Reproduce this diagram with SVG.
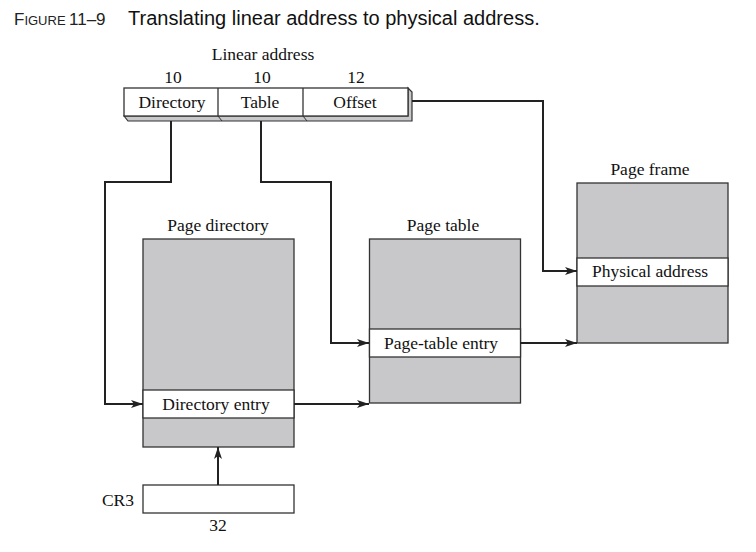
<svg xmlns="http://www.w3.org/2000/svg" width="756" height="552" viewBox="0 0 756 552">
<style>
.t{font-family:"Liberation Serif",serif;font-size:17.5px;fill:#111;text-anchor:middle}
.box{fill:#c8c8ca;stroke:#333;stroke-width:1.3}
.ent{fill:#fff;stroke:#333;stroke-width:1.3}
.wb{fill:#fff;stroke:#333;stroke-width:1.3}
.c{fill:none;stroke:#222;stroke-width:2}
</style>
<defs>
<marker id="ah" viewBox="0 0 12 8" refX="12" refY="4" markerWidth="12" markerHeight="8" markerUnits="userSpaceOnUse" orient="auto">
<path d="M0,0 L12,4 L0,8 L3,4 Z" fill="#222"/>
</marker>
</defs>
<rect width="756" height="552" fill="#fff"/>
<g id="title">
<text x="14" y="25" font-family="Liberation Sans,sans-serif" fill="#222"><tspan font-size="17">F</tspan><tspan font-size="13">IGURE</tspan><tspan font-size="17" x="69">11–9</tspan></text>
<text x="128" y="25" font-family="Liberation Sans,sans-serif" font-size="20" fill="#111">Translating linear address to physical address.</text>
</g>
<g id="linear-address">
<text class="t" x="263" y="60">Linear address</text>
<text class="t" x="173" y="83">10</text>
<text class="t" x="262" y="83">10</text>
<text class="t" x="356" y="83">12</text>
<path d="M124,116 L128,121 L412,121 L412,92 L408,88 L408,116 Z" fill="#c8c8ca" stroke="#333" stroke-width="1.2"/>
<line x1="218" y1="116" x2="222" y2="121" stroke="#333" stroke-width="1"/>
<line x1="303" y1="116" x2="307" y2="121" stroke="#333" stroke-width="1"/>
<rect class="wb" x="124" y="88" width="284" height="28"/>
<line x1="218" y1="88" x2="218" y2="116" stroke="#333" stroke-width="1.3"/>
<line x1="303" y1="88" x2="303" y2="116" stroke="#333" stroke-width="1.3"/>
<text class="t" x="172" y="108">Directory</text>
<text class="t" x="260" y="108">Table</text>
<text class="t" x="355" y="108">Offset</text>
</g>
<g id="page-directory">
<text class="t" x="218" y="231">Page directory</text>
<rect class="box" x="143" y="239" width="151" height="208"/>
<rect class="ent" x="143" y="390" width="151" height="28"/>
<text class="t" x="216" y="410">Directory entry</text>
</g>
<g id="page-table">
<text class="t" x="443" y="231">Page table</text>
<rect class="box" x="369.500" y="239" width="151" height="164"/>
<rect class="ent" x="369.500" y="329" width="151" height="28"/>
<text class="t" x="441" y="349">Page-table entry</text>
</g>
<g id="page-frame">
<text class="t" x="650" y="175">Page frame</text>
<rect class="box" x="577" y="183" width="151" height="160"/>
<rect class="ent" x="577" y="258" width="151" height="28"/>
<text class="t" x="650" y="277">Physical address</text>
</g>
<g id="cr3">
<text class="t" x="134" y="506" text-anchor="end" style="text-anchor:end">CR3</text>
<rect class="wb" x="143" y="485" width="151" height="28"/>
<text class="t" x="218" y="531">32</text>
</g>
<g id="connectors">
<path class="c" d="M171,121 V182 H105 V404 H143" marker-end="url(#ah)"/>
<path class="c" d="M261,121 V182 H331 V343 H369" marker-end="url(#ah)"/>
<path class="c" d="M412,101 H543 V271 H577" marker-end="url(#ah)"/>
<path class="c" d="M294,404 H369" marker-end="url(#ah)"/>
<path class="c" d="M520,343 H577" marker-end="url(#ah)"/>
<path class="c" d="M218,485 V447" marker-end="url(#ah)"/>
</g>
</svg>
